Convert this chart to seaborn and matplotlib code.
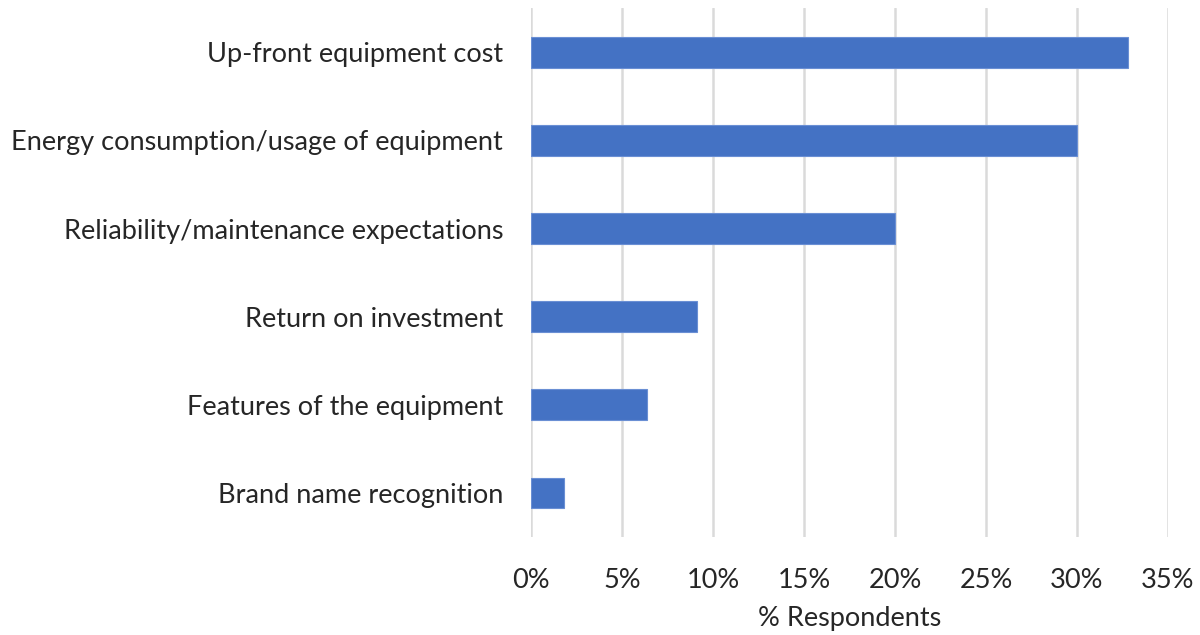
import matplotlib
matplotlib.use("Agg")
import matplotlib.pyplot as plt
from matplotlib.ticker import FuncFormatter, MultipleLocator
import seaborn as sns
import pandas as pd

factors = [
    "Up-front equipment cost",
    "Energy consumption/usage of equipment",
    "Reliability/maintenance expectations",
    "Return on investment",
    "Features of the equipment",
    "Brand name recognition",
]
share_pct = [32.8, 30.0, 20.0, 9.1, 6.4, 1.8]

df = pd.DataFrame({"factor": factors, "share": share_pct})

sns.set_theme(style="white")
plt.rcParams["font.family"] = ["Lato", "DejaVu Sans"]

fig = plt.figure(figsize=(12, 6.35), dpi=100)
ax = fig.add_axes([0.4425, 0.1543, 0.5308, 0.8327])

sns.barplot(data=df, x="share", y="factor", orient="h", color="#4472C4",
            saturation=1, width=0.35, edgecolor="#6a8fd4", linewidth=0.8, ax=ax)

ax.set_xlim(0, 35)
ax.set_ylim(5.5, -0.5)
ax.xaxis.set_major_locator(MultipleLocator(5))
ax.xaxis.set_major_formatter(FuncFormatter(lambda v, p: f"{v:.0f}%"))
ax.grid(axis="x", color="#dadada", linewidth=1.8, linestyle="-")
ax.set_axisbelow(True)
for s in ax.spines.values():
    s.set_visible(False)

ax.tick_params(axis="both", length=0, labelsize=19.5, colors="#262626")
ax.tick_params(axis="x", pad=22)
ax.tick_params(axis="y", pad=20)
ax.set_ylabel("")
ax.set_xlabel("% Respondents", fontsize=19.5, color="#262626", labelpad=10)

fig.savefig("out.png", dpi=100, facecolor="white")
